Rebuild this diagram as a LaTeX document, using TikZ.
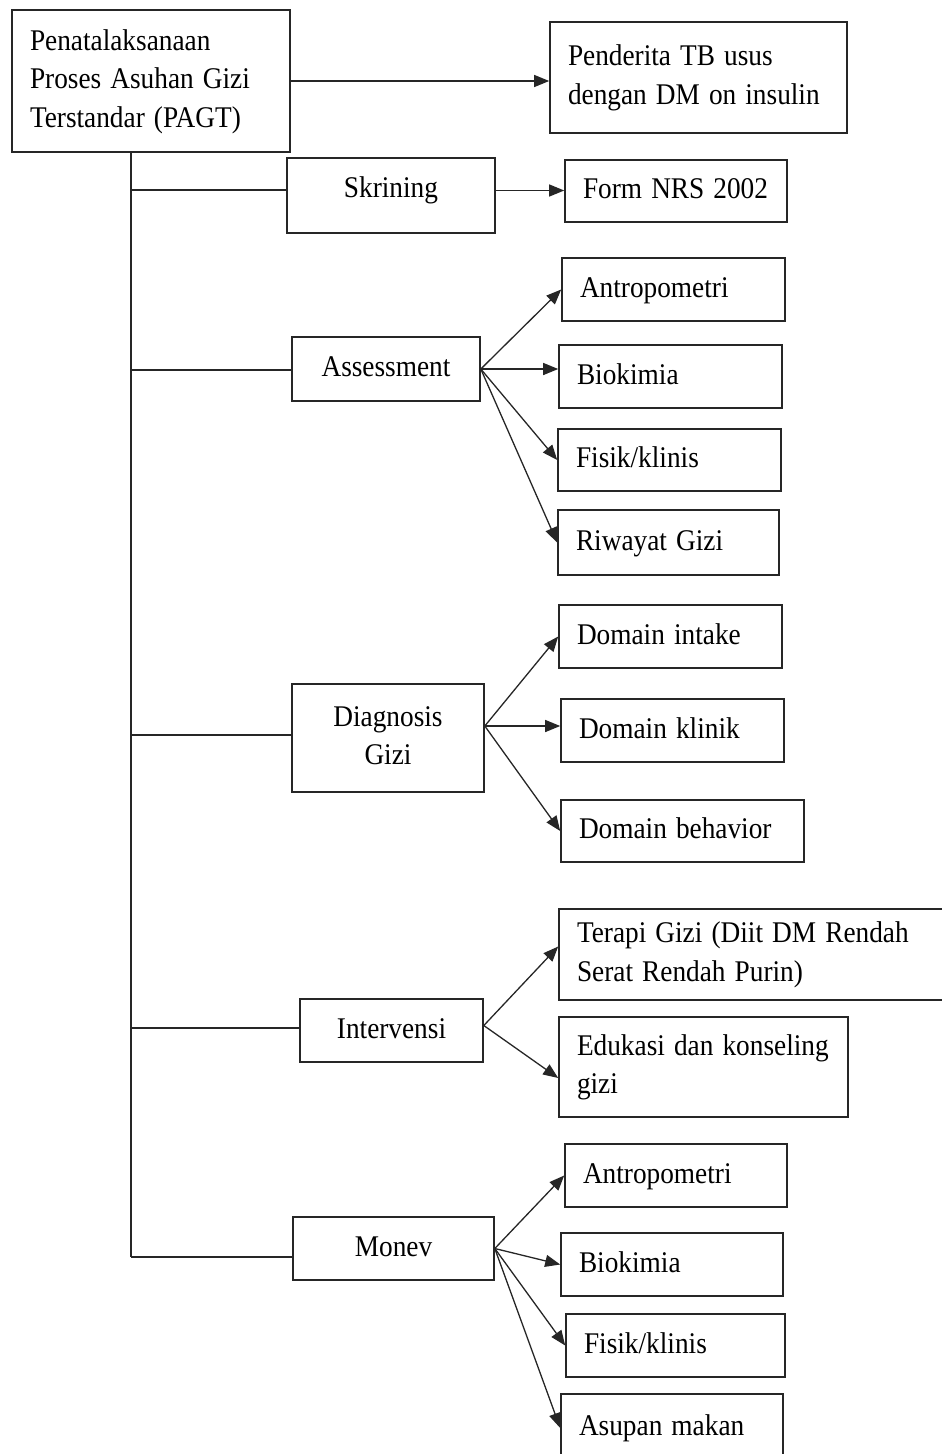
\documentclass[tikz,border=0pt]{standalone}
\usepackage{fontspec}
\setmainfont[WordSpace=0.8]{Liberation Serif}
\usepackage{graphicx}
\usetikzlibrary{arrows.meta}
\newcommand{\txl}[1]{\scalebox{1}[1.1]{\begin{tabular}{@{}l@{}}#1\end{tabular}}}
\newcommand{\txc}[1]{\scalebox{1}[1.1]{\begin{tabular}{@{}c@{}}#1\end{tabular}}}
\begin{document}
\begin{tikzpicture}[x=1pt,y=-1pt,
  box/.style={draw=black!85, line width=1.6pt, inner sep=0pt, font=\fontsize{27.3}{35}\selectfont},
  lbox/.style={box, inner xsep=18pt, align=left},
  con/.style={draw=black!85, line width=1.3pt},
  branch/.style={draw=black!85, line width=1.8pt},
  arr/.style={con, -{Triangle[length=15pt,width=12pt]}}]
\useasboundingbox (0,0) rectangle (942,1454);

% main boxes
\node[lbox, text width=242pt, minimum height=142pt] (pagt) at (151,81) {\txl{Penatalaksanaan\\Proses Asuhan Gizi\\Terstandar (PAGT)}};
\node[lbox, text width=261pt, minimum height=111pt] (pend) at (698.5,77.5) {\txl{Penderita TB usus\\dengan DM on insulin}};

\node[box, minimum width=208pt, minimum height=75pt] (skr) at (391,195.5) {\raisebox{6pt}[\height][\depth]{\txc{Skrining}}};
\node[lbox, text width=186pt, minimum height=62pt] (form) at (676,191) {\txl{Form NRS 2002}};

\node[box, minimum width=188pt, minimum height=64pt] (ass) at (386,369) {\txc{Assessment}};
\node[lbox, text width=187pt, minimum height=63pt] (ant1) at (673.5,289.5) {\txl{Antropometri}};
\node[lbox, text width=187pt, minimum height=63pt] (bio1) at (670.5,376.5) {\txl{Biokimia}};
\node[lbox, text width=187pt, minimum height=62pt] (fis1) at (669.5,460) {\txl{Fisik/klinis}};
\node[lbox, text width=185pt, minimum height=65pt] (riw) at (668.5,542.5) {\txl{Riwayat Gizi}};

\node[box, minimum width=192pt, minimum height=108pt] (diag) at (388,738) {\txc{Diagnosis\\Gizi}};
\node[lbox, text width=187pt, minimum height=63pt] (dint) at (670.5,636.5) {\txl{Domain intake}};
\node[lbox, text width=187pt, minimum height=63pt] (dkl) at (672.5,730.5) {\txl{Domain klinik}};
\node[lbox, text width=207pt, minimum height=62pt] (dbeh) at (682.5,831) {\txl{Domain behavior}};

\node[box, minimum width=183pt, minimum height=63pt] (intv) at (391.5,1030.5) {\txc{Intervensi}};
\node[lbox, text width=355pt, minimum height=91pt] (ter) at (754.5,954.5) {\txl{Terapi Gizi (Diit DM Rendah\\Serat Rendah Purin)}};
\node[lbox, text width=253pt, minimum height=100pt] (edu) at (703.5,1067) {\txl{Edukasi dan konseling\\gizi}};

\node[box, minimum width=201pt, minimum height=63pt] (monev) at (393.5,1248.5) {\txc{Monev}};
\node[lbox, text width=186pt, minimum height=63pt] (ant2) at (676,1175.5) {\txl{Antropometri}};
\node[lbox, text width=186pt, minimum height=63pt] (bio2) at (672,1264.5) {\txl{Biokimia}};
\node[lbox, text width=183pt, minimum height=63pt] (fis2) at (675.5,1345.5) {\txl{Fisik/klinis}};
\node[lbox, text width=186pt, minimum height=68pt] (asu) at (672,1428) {\txl{Asupan makan}};

% trunk
\coordinate (t0) at (131,152);
\coordinate (j1) at (131,190);
\coordinate (j2) at (131,370);
\coordinate (j3) at (131,735);
\coordinate (j4) at (131,1028);
\coordinate (j5) at (131,1257);
\draw[con] (t0) -- (j5);
\draw[branch] (j1) -- (j1 -| skr.west);
\draw[branch] (j2) -- (j2 -| ass.west);
\draw[branch] (j3) -- (j3 -| diag.west);
\draw[branch] (j4) -- (j4 -| intv.west);
\draw[branch] (j5) -- (j5 -| monev.west);

% arrows
\draw[arr] (pagt.east) -- (pagt.east -| pend.west);
\coordinate (sk) at ([yshift=5pt]skr.east);
\draw[arr] (sk) -- (sk -| form.west);

\draw[arr] (ass.east) -- (ant1.west);
\draw[arr] (ass.east) -- (ass.east -| bio1.west);
\draw[arr] (ass.east) -- (fis1.west);
\draw[arr] (ass.east) -- (riw.west);

\coordinate (dg) at ([yshift=12pt]diag.east);
\draw[arr] (dg) -- (dint.west);
\draw[arr] (dg) -- (dg -| dkl.west);
\draw[arr] (dg) -- (dbeh.west);

\coordinate (iv) at ([yshift=5pt]intv.east);
\draw[arr] (iv) -- ([yshift=8pt]ter.west);
\draw[arr] (iv) -- ([yshift=-11pt]edu.west);

\draw[arr] (monev.east) -- (ant2.west);
\draw[arr] (monev.east) -- (bio2.west);
\draw[arr] (monev.east) -- (fis2.west);
\draw[arr] (monev.east) -- (asu.west);
\end{tikzpicture}
\end{document}
